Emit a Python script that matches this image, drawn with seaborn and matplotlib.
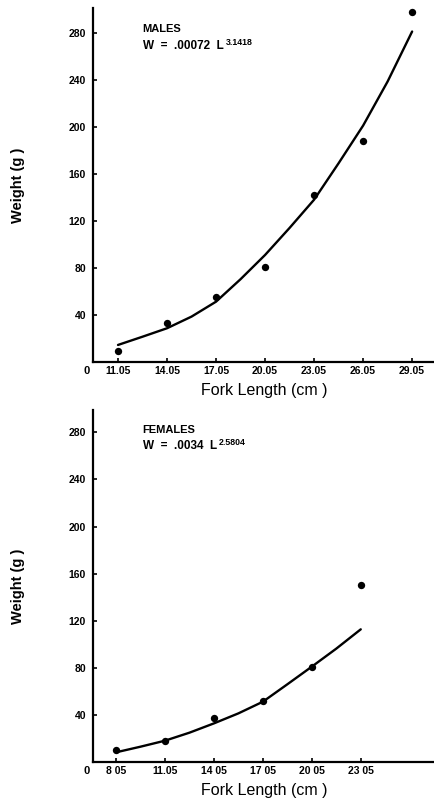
import matplotlib
matplotlib.use("Agg")
import matplotlib.pyplot as plt
import seaborn as sns

# ---- data ----
male_length = [11.05, 14.05, 17.05, 20.05, 23.05, 26.05, 29.05]
male_weight = [9.6, 33, 55.6, 80.6, 142, 187.5, 297.6]
male_curve_length = [11.05, 12.55, 14.05, 15.55, 17.05, 18.55, 20.05,
                     21.55, 23.05, 24.55, 26.05, 27.55, 29.05]
male_curve_weight = [14.5, 21.5, 28.7, 38.6, 51.3, 70.4, 91,
                     114, 138, 169, 201, 238.5, 281]

female_length = [8.05, 11.05, 14.05, 17.05, 20.05, 23.05]
female_weight = [10.2, 18, 37.7, 52, 81, 150]
female_curve_length = [8.2, 9.55, 11.05, 12.55, 14.05, 15.55, 17.05,
                       18.55, 20.05, 21.55, 23.05]
female_curve_weight = [8.7, 13, 18.1, 24.9, 32.8, 41.3, 51.2,
                       66, 81, 96.3, 112.7]

y_ticks = [40, 80, 120, 160, 200, 240, 280]
male_xticks = [11.05, 14.05, 17.05, 20.05, 23.05, 26.05, 29.05]
male_xticklabels = ["11.05", "14.05", "17.05", "20.05", "23.05", "26.05", "29.05"]
female_xticks = [8.05, 11.05, 14.05, 17.05, 20.05, 23.05]
female_xticklabels = ["8 05", "11.05", "14 05", "17 05", "20 05", "23 05"]

sns.set_style("ticks")
plt.rcParams["font.family"] = ["Liberation Sans", "DejaVu Sans"]
for k in ["text.color", "axes.labelcolor", "xtick.color", "ytick.color",
          "axes.edgecolor"]:
    plt.rcParams[k] = "black"

fig = plt.figure(figsize=(4.35, 8.06), dpi=100)
W, H = 435, 806


def make_axes(top_px, bottom_px):
    left = 93 / W
    return fig.add_axes([left, 1 - bottom_px / H, 1 - left, (bottom_px - top_px) / H])


def style(ax, xlim, ylim, xticks, xticklabels, title, eq, sup, ty, ey):
    ax.set_xlim(*xlim)
    ax.set_ylim(*ylim)
    ax.set_yticks(y_ticks)
    ax.set_yticklabels([str(v) for v in y_ticks], fontsize=7.5, fontweight="bold")
    ax.set_xticks(xticks)
    ax.set_xticklabels(xticklabels, fontsize=7.5, fontweight="bold")
    ax.tick_params(axis="x", direction="in", length=3, width=1.2, pad=3)
    ax.tick_params(axis="y", direction="in", length=3, width=1.2, pad=5)
    for s in ["top", "right"]:
        ax.spines[s].set_visible(False)
    for s in ["left", "bottom"]:
        ax.spines[s].set_linewidth(1.6)
    ax.set_ylabel("Weight (g )", fontsize=10.5, fontweight="bold")
    ax.yaxis.set_label_coords(-0.2, 0.5)
    ax.set_xlabel("Fork Length (cm )", fontsize=11.5, labelpad=5)
    ax.text(-0.02, -0.012, "0", transform=ax.transAxes, fontsize=8,
            fontweight="bold", ha="center", va="top")
    ax.text(0.145, ty, title, transform=ax.transAxes, fontsize=8,
            fontweight="bold", ha="left", va="center")
    t = ax.text(0.145, ey, eq, transform=ax.transAxes,
                fontsize=8.5, fontweight="bold", ha="left", va="center")
    ax.annotate(sup, xy=(1, 0.5), xycoords=t, xytext=(1.5, 2.5),
                textcoords="offset points", fontsize=6.3, fontweight="bold",
                ha="left", va="center")
    ax.grid(False)


# ---- Males ----
ax1 = make_axes(8, 362)
sns.lineplot(x=male_curve_length, y=male_curve_weight, ax=ax1, color="black",
             linewidth=1.7, sort=False)
sns.scatterplot(x=male_length, y=male_weight, ax=ax1, color="black", s=28,
                edgecolor="black", linewidth=0)
style(ax1, (9.52, 30.45), (0, 301), male_xticks, male_xticklabels,
      "MALES", "W  =  .00072  L", "3.1418", 0.94, 0.893)

# ---- Females ----
ax2 = make_axes(410, 762)
sns.lineplot(x=female_curve_length, y=female_curve_weight, ax=ax2, color="black",
             linewidth=1.7, sort=False)
sns.scatterplot(x=female_length, y=female_weight, ax=ax2, color="black", s=28,
                edgecolor="black", linewidth=0)
style(ax2, (6.64, 27.6), (0, 299), female_xticks, female_xticklabels,
      "FEMALES", "W  =  .0034  L", "2.5804", 0.943, 0.898)

fig.savefig("out.png", dpi=100)
